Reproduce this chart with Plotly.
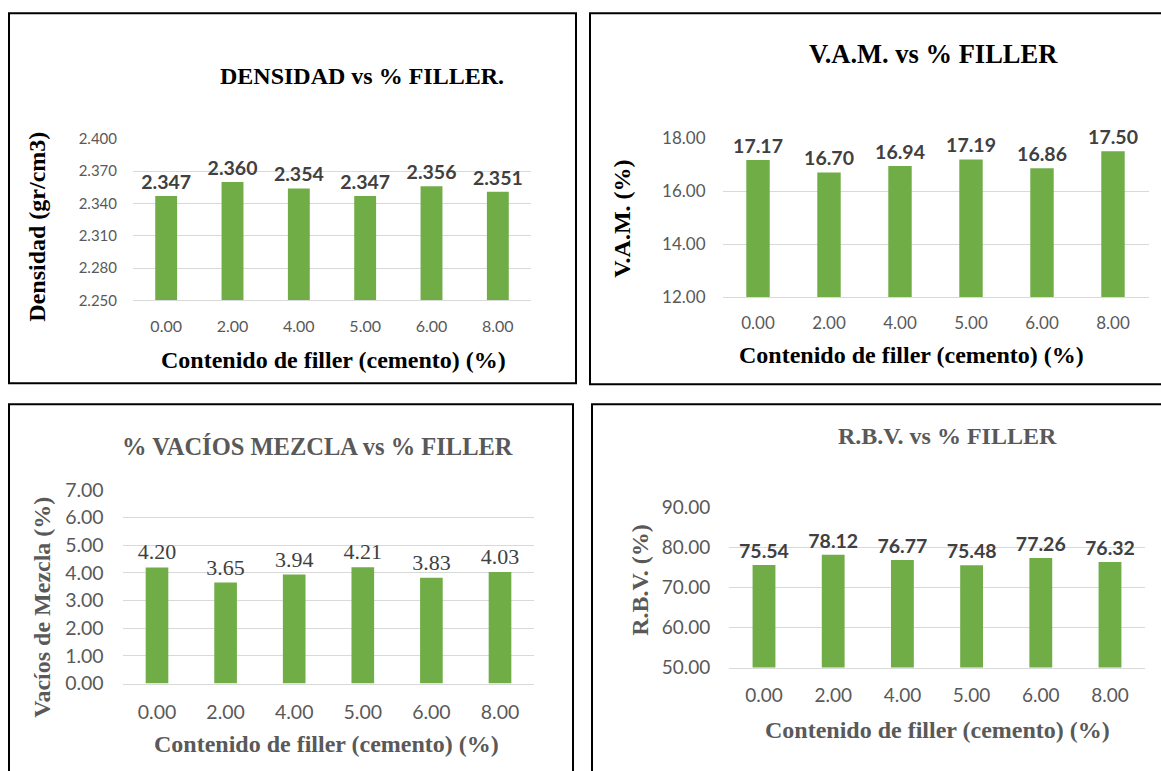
import plotly.graph_objects as go

W, H = 1161, 771

# Filler content categories (cement, %)
filler = ["0.00", "2.00", "4.00", "5.00", "6.00", "8.00"]

# Measured properties per filler content
densidad = [2.347, 2.360, 2.354, 2.347, 2.356, 2.351]
vam = [17.17, 16.70, 16.94, 17.19, 16.86, 17.50]
vacios = [4.20, 3.65, 3.94, 4.21, 3.83, 4.03]
rbv = [75.54, 78.12, 76.77, 75.48, 77.26, 76.32]

# Axis tick values
densidad_ticks = [2.250, 2.280, 2.310, 2.340, 2.370, 2.400]
vam_ticks = [12.0, 14.0, 16.0, 18.0]
vacios_ticks = [0, 1, 2, 3, 4, 5, 6, 7]
rbv_ticks = [50, 60, 70, 80, 90]

GREEN = "#70AD47"
GRID = "#D9D9D9"
GREY = "#595959"
DARK = "#404040"
SERIF = "Liberation Serif, Times New Roman, serif"
SANS = "Lato, Calibri, sans-serif"

# vertical page placement: top offset and scale of the figure on screen
Y_OFF, Y_SCALE = 10.8, 0.9726


def px(x):
    return x / W


def py(y):
    return 1 - ((y - Y_OFF) / Y_SCALE) / H


def pxs(v):
    return int(round(v / Y_SCALE))


fig = go.Figure()

panels = [
    dict(vals=densidad, ticks=densidad_ticks, tfmt=".3f", lfmt="%{y:.3f}",
         xd=(133, 531), yd=(138, 300), rng=[2.25, 2.40],
         lfont=dict(family=SANS, size=19.5, color=DARK, weight="bold"),
         tsize=15, xtsize=16, ystand=15, xstand=11),
    dict(vals=vam, ticks=vam_ticks, tfmt=".2f", lfmt="%{y:.2f}",
         xd=(722.5, 1148.5), yd=(137, 297), rng=[12, 18],
         lfont=dict(family=SANS, size=19.5, color=DARK, weight="bold"),
         tsize=17, xtsize=17, ystand=16, xstand=10),
    dict(vals=vacios, ticks=vacios_ticks, tfmt=".2f", lfmt="%{y:.2f}",
         xd=(122.7, 534.3), yd=(490, 684), rng=[0, 7],
         lfont=dict(family=SERIF, size=22, color=DARK),
         tsize=19.5, xtsize=19.5, ystand=18, xstand=11),
    dict(vals=rbv, ticks=rbv_ticks, tfmt=".2f", lfmt="%{y:.2f}",
         xd=(729.4, 1144.6), yd=(507, 668), rng=[50, 90],
         lfont=dict(family=SANS, size=19.5, color=DARK, weight="bold"),
         tsize=19, xtsize=19, ystand=18, xstand=11),
]

layout = {}
for i, p in enumerate(panels, start=1):
    sx = "" if i == 1 else str(i)
    fig.add_trace(go.Bar(
        x=filler, y=p["vals"], xaxis="x" + sx, yaxis="y" + sx,
        marker=dict(color=GREEN, line=dict(width=0)),
        texttemplate=p["lfmt"], textposition="outside", textangle=0,
        textfont=p["lfont"], constraintext="none", cliponaxis=False,
        showlegend=False, hoverinfo="skip",
    ))
    layout["xaxis" + sx] = dict(
        domain=[px(p["xd"][0]), px(p["xd"][1])], anchor="y" + sx,
        type="category", showgrid=False, showline=True, linecolor=GRID,
        linewidth=1, ticks="", ticklabelstandoff=pxs(p["xstand"]),
        tickfont=dict(family=SANS, size=p["xtsize"], color=GREY),
        fixedrange=True,
    )
    layout["yaxis" + sx] = dict(
        domain=[py(p["yd"][1]), py(p["yd"][0])], anchor="x" + sx,
        range=p["rng"], tickvals=p["ticks"], tickformat=p["tfmt"],
        showgrid=True, gridcolor=GRID, gridwidth=1, zeroline=False,
        showline=False, ticks="", ticklabelstandoff=p["ystand"],
        tickfont=dict(family=SANS, size=p["tsize"], color=GREY),
        fixedrange=True,
    )

XTITLE = "Contenido de filler (cemento) (%)"
texts = [
    # (text, x, y, size, color, angle)
    ("DENSIDAD vs % FILLER.", 362, 75, 24, "#000000", 0),
    (XTITLE, 333, 360, 24, "#000000", 0),
    ("Densidad (gr/cm3)", 37, 226, 24, "#000000", -90),
    ("V.A.M. vs % FILLER", 933, 53, 26.5, "#000000", 0),
    (XTITLE, 911, 355, 24, "#000000", 0),
    ("V.A.M. (%)", 622, 218, 24, "#000000", -90),
    ("% VACÍOS MEZCLA vs % FILLER", 317, 446, 24.5, GREY, 0),
    (XTITLE, 326, 745, 24, GREY, 0),
    ("Vacíos de Mezcla (%)", 42, 608, 24, GREY, -90),
    ("R.B.V. vs % FILLER", 947, 436, 24, GREY, 0),
    (XTITLE, 937, 731, 24, GREY, 0),
    ("R.B.V. (%)", 640, 580, 24, GREY, -90),
]
annotations = [
    dict(text=t, x=px(x), y=py(y), xref="paper", yref="paper",
         xanchor="center", yanchor="middle", showarrow=False, textangle=a,
         font=dict(family=SERIF, size=s, color=c, weight="bold"))
    for t, x, y, s, c, a in texts
]

# Frames around each chart
frames = [(9, 12, 576, 383), (590, 12, 1175, 384),
          (9, 404, 573, 800), (592, 404, 1175, 800)]
shapes = [
    dict(type="rect", xref="paper", yref="paper",
         x0=px(x0), x1=px(x1), y0=py(y1), y1=py(y0),
         line=dict(color="#000000", width=2), fillcolor="rgba(0,0,0,0)")
    for x0, y0, x1, y1 in frames
]

fig.update_layout(
    width=W, height=H, margin=dict(l=0, r=0, t=0, b=0),
    paper_bgcolor="white", plot_bgcolor="white",
    bargap=0.67, annotations=annotations, shapes=shapes,
    **layout,
)

fig.write_html("out.html")
